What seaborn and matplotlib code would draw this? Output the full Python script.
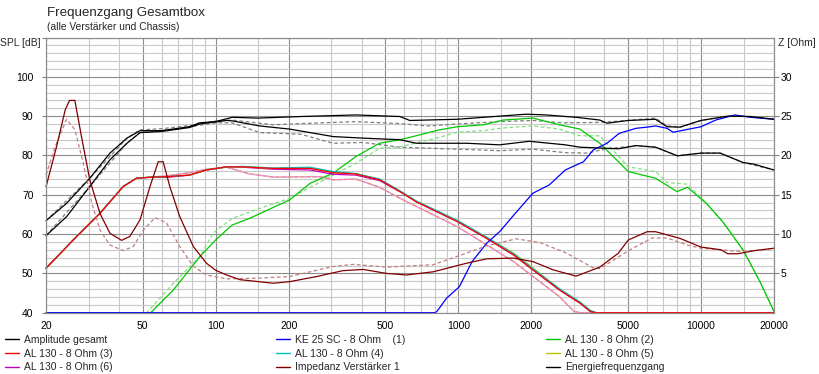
import numpy as np
import pandas as pd
import matplotlib
matplotlib.use("Agg")
import matplotlib.pyplot as plt
from matplotlib.lines import Line2D
from matplotlib.ticker import FixedLocator, NullFormatter
import seaborn as sns

# ---- data (Hz / dB, impedance in Ohm) ----
f_sum_a = [20, 24.3, 30.3, 36.7, 43.1, 48.8, 60, 78, 86, 100, 117, 150, 224, 378, 575, 631, 990, 1480,
           1910, 2300, 3060, 3830, 4100, 5020, 6500, 7250, 8200, 10000, 12900, 16000, 20000]
spl_sum_a = [63.4, 67.8, 74.2, 80.6, 84.4, 86.3, 86.3, 87.3, 88.3, 88.6, 89.7, 89.5, 89.9, 90.3, 89.9, 88.9,
             89.2, 90.0, 90.5, 90.3, 89.7, 89.0, 88.2, 88.9, 89.2, 87.3, 87.2, 88.9, 90.0, 89.9, 89.2]
f_sum_a_ref = [20, 30.3, 43.1, 48.8, 60, 78, 100, 117, 173, 224, 378, 575, 750, 990, 1480, 2030, 2700,
               3830, 5020, 6500, 7250, 8200, 10000, 12900, 16000, 20000]
spl_sum_a_ref = [63.4, 74.2, 84.4, 86.5, 86.8, 87.6, 88.8, 89.0, 87.8, 88.1, 88.6, 88.1, 87.5, 88.0, 88.6,
                 88.9, 88.3, 88.4, 88.9, 89.5, 87.5, 87.2, 88.9, 90.0, 89.9, 89.2]

f_energy = [20, 24.3, 30.3, 36.7, 43.1, 48.8, 60, 78, 86, 111, 117, 152, 202, 305, 406, 575, 672, 1084,
            1480, 1960, 2760, 3170, 4560, 5400, 6500, 8000, 10000, 12000, 14900, 16500, 20000]
spl_energy = [59.6, 64.4, 72.1, 78.9, 83.1, 85.8, 86.1, 87.1, 88.0, 88.9, 88.8, 87.5, 86.7, 84.8, 84.4,
              84.0, 83.1, 83.1, 82.7, 83.6, 82.7, 82.1, 81.7, 82.5, 82.1, 79.9, 80.6, 80.6, 78.2, 77.8, 76.3]
f_energy_ref = [20, 30.3, 43.1, 48.8, 60, 78, 100, 117, 152, 224, 305, 406, 575, 990, 1480, 2030, 2760,
                3400, 4000, 5400, 6500, 8000, 10000, 12000, 14900, 20000]
spl_energy_ref = [59.6, 72.1, 83.1, 85.8, 86.3, 87.3, 88.3, 88.3, 85.8, 85.4, 83.1, 83.3, 82.1, 81.6, 81.2,
                  81.6, 80.7, 80.6, 81.6, 82.5, 82.1, 79.9, 80.6, 80.6, 78.2, 76.3]

f_ke25 = [20, 800, 816, 895, 1010, 1140, 1310, 1480, 1670, 2030, 2370, 2760, 3280, 3600, 4100, 4600,
          5400, 6000, 6500, 7250, 7680, 8600, 10000, 11500, 13800, 16000, 20000]
spl_ke25 = [40, 40, 40.3, 43.7, 46.6, 53.0, 57.7, 60.6, 64.4, 70.4, 72.5, 76.3, 78.4, 81.4, 83.1, 85.6,
            86.9, 87.2, 87.5, 86.9, 85.9, 86.5, 87.3, 89.0, 90.3, 89.7, 89.2]

f_al130_2 = [20, 54, 67, 86, 100, 117, 138, 202, 245, 305, 378, 474, 575, 650, 835, 990, 1270, 1530, 2030,
             2610, 3170, 3500, 3830, 5020, 6500, 7970, 8800, 10540, 12270, 14900, 17500, 20000]
spl_al130_2 = [40, 40, 45.8, 54.2, 58.5, 62.3, 64.0, 68.7, 72.9, 75.5, 79.7, 83.1, 84.0, 84.8, 86.5, 87.3,
               87.8, 89.0, 89.5, 87.8, 86.7, 84.8, 83.1, 75.9, 74.2, 70.8, 71.9, 67.8, 63.2, 56.0, 47.9, 40.3]
f_al130_2_ref = [20, 52, 67, 86, 97.5, 117, 160, 202, 305, 378, 474, 575, 835, 990, 1270, 1530, 2030, 2610,
                 3170, 3830, 5020, 6500, 7250, 8800, 10540, 12270, 14900, 17500, 20000]
spl_al130_2_ref = [40, 40, 47.5, 54.2, 60.2, 64.0, 67.0, 69.1, 75.0, 78.0, 81.8, 82.2, 84.6, 85.9, 86.3,
                   87.0, 87.5, 86.7, 85.0, 85.0, 77.1, 75.9, 73.1, 72.7, 67.8, 63.2, 56.0, 47.9, 40.3]

f_al130 = [20, 25.9, 33.4, 41.6, 47.2, 55, 62.8, 78, 91.6, 111, 130, 173, 245, 305, 378, 474, 575, 672,
           990, 1310, 1690, 2030, 2610, 3180, 3500, 3700, 20000]
spl_al130_3 = [51.3, 58.5, 65.3, 72.1, 74.2, 74.5, 74.6, 75.0, 76.3, 77.1, 77.1, 76.7, 76.7, 75.6, 75.3,
               73.8, 70.8, 68.2, 63.2, 58.9, 54.7, 50.9, 45.8, 42.4, 40.3, 40.0, 40.0]
spl_al130_4 = [51.3, 58.5, 65.3, 72.1, 74.2, 74.5, 74.6, 75.0, 76.3, 77.1, 77.2, 76.8, 77.0, 75.9, 75.4,
               74.0, 71.0, 68.4, 63.5, 59.2, 55.0, 51.2, 46.1, 42.7, 40.6, 40.0, 40.0]
spl_al130_5 = [51.3, 58.5, 65.3, 72.1, 74.2, 74.5, 74.6, 75.0, 76.3, 77.1, 77.1, 76.7, 76.8, 75.7, 75.3,
               73.9, 70.9, 68.3, 63.4, 59.1, 55.2, 51.4, 46.0, 42.6, 40.5, 40.0, 40.0]
spl_al130_6 = [51.3, 58.5, 65.3, 72.1, 74.2, 74.5, 74.4, 75.0, 76.3, 77.1, 77.0, 76.5, 76.3, 75.2, 75.0,
               73.6, 70.8, 68.2, 63.2, 58.9, 54.7, 50.9, 45.8, 42.4, 40.3, 40.0, 40.0]
f_al130_ref = [20, 25.9, 33.4, 41.6, 47.2, 62.8, 78, 91.6, 111, 138, 173, 270, 305, 378, 474, 575, 990,
               1690, 2610, 3000, 3200, 20000]
spl_al130_ref = [51.3, 58.5, 65.3, 72.1, 74.2, 74.8, 75.6, 76.5, 77.0, 75.3, 74.5, 74.6, 73.8, 74.0, 71.9,
                 69.1, 61.9, 53.0, 44.1, 40.3, 40.0, 40.0]

f_imp = [20, 22.1, 24, 25, 26.3, 28, 30.3, 33.4, 36.7, 41, 44.3, 48.8, 53.6, 58, 60.8, 64.8, 71.2, 81,
         91.6, 100, 111, 126, 173, 202, 261, 335, 406, 505, 612, 788, 1084, 1310, 1680, 2030, 2460, 3060,
         3830, 4560, 5020, 6000, 6500, 7250, 8200, 10000, 12100, 12900, 14200, 16700, 20000]
z_imp = [16.0, 21.1, 25.8, 27.0, 27.0, 22.4, 16.9, 12.6, 10.1, 9.2, 9.7, 11.8, 16.0, 19.2, 19.2, 16.0,
         12.2, 8.4, 6.3, 5.4, 4.8, 4.2, 3.75, 3.95, 4.6, 5.35, 5.5, 5.0, 4.8, 5.2, 6.3, 6.85, 6.95, 6.5,
         5.45, 4.65, 5.8, 7.55, 9.25, 10.3, 10.3, 9.9, 9.45, 8.35, 8.0, 7.5, 7.5, 7.9, 8.2]
f_imp_ref = [20, 21.8, 24.3, 26.3, 28.5, 30.9, 33.4, 36.7, 41.6, 45.7, 50.4, 56.3, 62.8, 71.2, 81, 91.6,
             111, 150, 202, 245, 300, 370, 505, 788, 1084, 1310, 1733, 2180, 2780, 3600, 3830, 5100, 6300,
             7250, 8800, 10000, 12100, 14200, 16700, 20000]
z_imp_ref = [17.5, 21.1, 24.6, 23.3, 19.0, 13.9, 10.5, 8.6, 7.9, 8.4, 10.5, 12.1, 11.4, 8.4, 5.9, 4.8,
             4.3, 4.4, 4.6, 5.2, 5.85, 6.15, 5.8, 6.1, 7.6, 8.5, 9.4, 8.9, 7.6, 5.7, 5.6, 8.0, 9.5, 9.5,
             8.6, 8.2, 8.0, 7.8, 7.9, 8.2]

legend_labels = [
    "Amplitude gesamt", "AL 130 - 8 Ohm (3)", "AL 130 - 8 Ohm (6)",
    "KE 25 SC - 8 Ohm    (1)", "AL 130 - 8 Ohm (4)", "Impedanz Verstärker 1",
    "AL 130 - 8 Ohm (2)", "AL 130 - 8 Ohm (5)", "Energiefrequenzgang",
]
legend_colors = ["#000000", "#ff0000", "#c000c0",
                 "#0000ff", "#00c0c0", "#800000",
                 "#00c800", "#c0c000", "#000000"]

x_major = [20, 50, 100, 200, 500, 1000, 2000, 5000, 10000, 20000]
x_minor = [30, 40, 60, 70, 80, 90, 150, 300, 400, 600, 700, 800, 900, 1500,
           3000, 4000, 6000, 7000, 8000, 9000, 15000]

sns.set_theme(style="white")
plt.rcParams["font.family"] = ["Liberation Sans", "DejaVu Sans"]

fig = plt.figure(figsize=(8.2, 3.74), dpi=100)
ax = fig.add_axes([46 / 820, 61.3 / 374, 728 / 820, 275.2 / 374])
ax2 = ax.twinx()

LW = 0.9
DASH = (0, (3, 2))


def line(a, f, v, color, ls="-", z=2):
    sns.lineplot(x=f, y=v, ax=a, color=color, lw=LW, linestyle=ls, clip_on=False,
                 estimator=None, sort=False, legend=False, zorder=z)


# dashed reference curves first
line(ax, f_sum_a_ref, spl_sum_a_ref, "#808080", DASH)
line(ax, f_energy_ref, spl_energy_ref, "#808080", DASH)
line(ax, f_al130_2_ref, spl_al130_2_ref, "#80e080", DASH)
line(ax, f_al130_ref, spl_al130_ref, "#e0e080", (1, (3, 2)))
line(ax, f_al130_ref, spl_al130_ref, "#80d8d8", (4, (3, 2)))
line(ax, f_al130_ref, spl_al130_ref, "#f090f0", (2.5, (3, 2)))
line(ax, f_al130_ref, spl_al130_ref, "#ff8080", DASH)

# solid curves
line(ax, f_al130_2, spl_al130_2, "#00c800")
line(ax, f_al130, spl_al130_6, "#c000c0")
line(ax, f_al130, spl_al130_5, "#c0c000")
line(ax, f_al130, spl_al130_4, "#00c0c0")
line(ax, f_al130, spl_al130_3, "#ff0000")
line(ax, f_ke25, spl_ke25, "#0000ff")
line(ax, f_energy, spl_energy, "#000000")
line(ax, f_sum_a, spl_sum_a, "#000000")

# impedance on the right axis
line(ax2, f_imp_ref, z_imp_ref, "#c08080", DASH)
line(ax2, f_imp, z_imp, "#800000")

# axes / grid
ax.set_xscale("log")
ax.set_xlim(20, 20000)
ax.set_ylim(40, 110)
ax2.set_ylim(0, 35)

ax.xaxis.set_major_locator(FixedLocator(x_major))
ax.xaxis.set_minor_locator(FixedLocator(x_minor))
ax.set_xticklabels([str(v) for v in x_major])
ax.xaxis.set_minor_formatter(NullFormatter())
ax.set_yticks(np.arange(40, 111, 10))
ax.set_yticklabels([str(v) for v in range(40, 101, 10)] + [""])
ax.set_yticks(np.arange(40, 111, 2), minor=True)
ax2.set_yticks(np.arange(5, 31, 5))
ax2.set_yticklabels([str(v) for v in range(5, 31, 5)])

ax.grid(which="minor", color="#c8c8c8", lw=0.8)
ax.grid(which="major", color="#8c8c8c", lw=0.8)
ax.set_axisbelow(True)
ax2.grid(False)
ax.set_facecolor("white")
ax2.patch.set_visible(False)

ax.tick_params(axis="x", which="both", length=0, pad=6, labelsize=7.5, colors="black")
ax.tick_params(axis="y", which="major", left=True, length=3, width=0.8, color="#808080",
               pad=6, labelsize=7.5, labelcolor="black")
ax.tick_params(axis="y", which="minor", length=0)
ax2.tick_params(axis="y", right=True, length=3.8, width=0.8, color="#808080", pad=1,
                labelsize=7.5, labelcolor="black")
for a in (ax, ax2):
    for s in a.spines.values():
        s.set_color("#8c8c8c")
        s.set_linewidth(0.8)
ax.set_xlabel("")
ax.set_ylabel("")
ax2.set_ylabel("")

# texts
fig.text(47 / 820, 1 - 13 / 374, "Frequenzgang Gesamtbox", fontsize=9.6, va="center", ha="left")
fig.text(47 / 820, 1 - 27.5 / 374, "(alle Verstärker und Chassis)", fontsize=7.4, va="center", ha="left")
fig.text(41 / 820, 1 - 43 / 374, "SPL [dB]", fontsize=7.5, va="center", ha="right")
fig.text(778 / 820, 1 - 43 / 374, "Z [Ohm]", fontsize=7.5, va="center", ha="left")

# legend, three columns
col_x = [5, 276, 546]
for c in range(3):
    handles = [Line2D([], [], color=legend_colors[c * 3 + r], lw=1.0) for r in range(3)]
    fig.legend(handles, legend_labels[c * 3:c * 3 + 3], loc="upper left",
               bbox_to_anchor=(col_x[c] / 820, 1 - 335 / 374), frameon=False,
               fontsize=7.5, handlelength=1.35, handletextpad=0.45, labelspacing=0.36,
               borderpad=0, borderaxespad=0)

fig.savefig("out.png", dpi=100, facecolor="white")
